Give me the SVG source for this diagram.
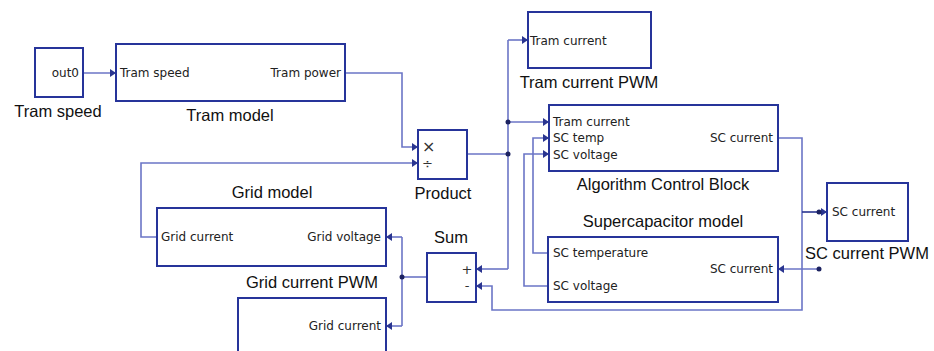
<svg xmlns="http://www.w3.org/2000/svg" width="934" height="351" viewBox="0 0 934 351">
<defs>
<marker id="ar" viewBox="0 0 6 8" refX="6" refY="4" markerWidth="6" markerHeight="8" markerUnits="userSpaceOnUse" orient="auto">
<path d="M0,0 L6,4 L0,8 Z" fill="#2a3590"/>
</marker>
<style>
.blk{fill:#fff;stroke:#26349a;stroke-width:2}
.port{font-family:"DejaVu Sans",Verdana,sans-serif;font-size:12px;fill:#222}
.lbl{font-family:"Liberation Sans",Arial,sans-serif;font-size:16.5px;fill:#111;text-anchor:middle}
.sym{font-family:"DejaVu Sans",sans-serif;font-size:13px;fill:#333}
.w{fill:none;stroke:#6b75c6;stroke-width:1.6}
.wa{fill:none;stroke:#6b75c6;stroke-width:1.6;marker-end:url(#ar)}
.dot{fill:#1c2260}
</style>
</defs>
<rect width="934" height="351" fill="#fff"/>

<g id="connectors">
<path class="wa" d="M83,73 H116"/>
<path class="wa" d="M345,73 H402 V147 H418"/>
<path class="wa" d="M157,237 H141 V163 H418"/>
<path class="w" d="M467,154 H508"/>
<path class="w" d="M508,40 V269"/>
<path class="wa" d="M508,40 H528"/>
<path class="wa" d="M508,122 H549"/>
<path class="wa" d="M508,269 H476"/>
<path class="wa" d="M548,253 H533 V138 H549"/>
<path class="wa" d="M548,286 H524 V154 H549"/>
<path class="wa" d="M778,138 H802 V310 H492 V286 H476"/>
<path class="wa" d="M802,212 H827" style="stroke:#2a3590"/>
<path class="wa" d="M819,269 H778"/>
<path class="w" d="M427,277 H402"/>
<path class="w" d="M402,237 V326"/>
<path class="wa" d="M402,237 H386"/>
<path class="wa" d="M402,326 H386"/>
<circle class="dot" cx="508" cy="122" r="2.5"/>
<circle class="dot" cx="508" cy="154" r="2.5"/>
<circle class="dot" cx="819" cy="212" r="2.5"/>
<circle class="dot" cx="819" cy="269" r="2.5"/>
<circle class="dot" cx="402" cy="277" r="2.5"/>
</g>

<g id="tram-speed">
<rect class="blk" x="35" y="48" width="48" height="49"/>
<text class="port" x="79" y="77" text-anchor="end">out0</text>
<text class="lbl" x="58" y="117">Tram speed</text>
</g>

<g id="tram-model">
<rect class="blk" x="116" y="44" width="229" height="57"/>
<text class="port" x="120" y="77">Tram speed</text>
<text class="port" x="341" y="77" text-anchor="end">Tram power</text>
<text class="lbl" x="230" y="121">Tram model</text>
</g>

<g id="product">
<rect class="blk" x="418" y="130" width="49" height="49"/>
<text class="sym" x="422" y="152" style="font-size:16px">×</text>
<text class="sym" x="422" y="168">÷</text>
<text class="lbl" x="443" y="199">Product</text>
</g>

<g id="tram-current-pwm">
<rect class="blk" x="528" y="12" width="123" height="56"/>
<text class="port" x="530" y="45">Tram current</text>
<text class="lbl" x="589" y="88">Tram current PWM</text>
</g>

<g id="algorithm-control-block">
<rect class="blk" x="549" y="105" width="229" height="66"/>
<text class="port" x="553" y="126">Tram current</text>
<text class="port" x="553" y="142">SC temp</text>
<text class="port" x="553" y="159">SC voltage</text>
<text class="port" x="773" y="142" text-anchor="end">SC current</text>
<text class="lbl" x="663" y="190">Algorithm Control Block</text>
</g>

<g id="supercapacitor-model">
<rect class="blk" x="548" y="237" width="230" height="65"/>
<text class="port" x="553" y="257">SC temperature</text>
<text class="port" x="553" y="290">SC voltage</text>
<text class="port" x="773" y="273" text-anchor="end">SC current</text>
<text class="lbl" x="663" y="227">Supercapacitor model</text>
</g>

<g id="sc-current-pwm">
<rect class="blk" x="827" y="183" width="81" height="58"/>
<text class="port" x="832" y="216">SC current</text>
<text class="lbl" x="867" y="259">SC current PWM</text>
</g>

<g id="sum">
<rect class="blk" x="427" y="253" width="49" height="49"/>
<text class="sym" x="467" y="274" text-anchor="middle">+</text>
<text class="sym" x="467" y="290" text-anchor="middle">-</text>
<text class="lbl" x="451" y="243">Sum</text>
</g>

<g id="grid-model">
<rect class="blk" x="157" y="208" width="229" height="58"/>
<text class="port" x="161" y="241">Grid current</text>
<text class="port" x="381" y="241" text-anchor="end">Grid voltage</text>
<text class="lbl" x="272" y="198">Grid model</text>
</g>

<g id="grid-current-pwm">
<rect class="blk" x="238" y="298" width="148" height="70"/>
<text class="port" x="381" y="330" text-anchor="end">Grid current</text>
<text class="lbl" x="312" y="288">Grid current PWM</text>
</g>
</svg>
